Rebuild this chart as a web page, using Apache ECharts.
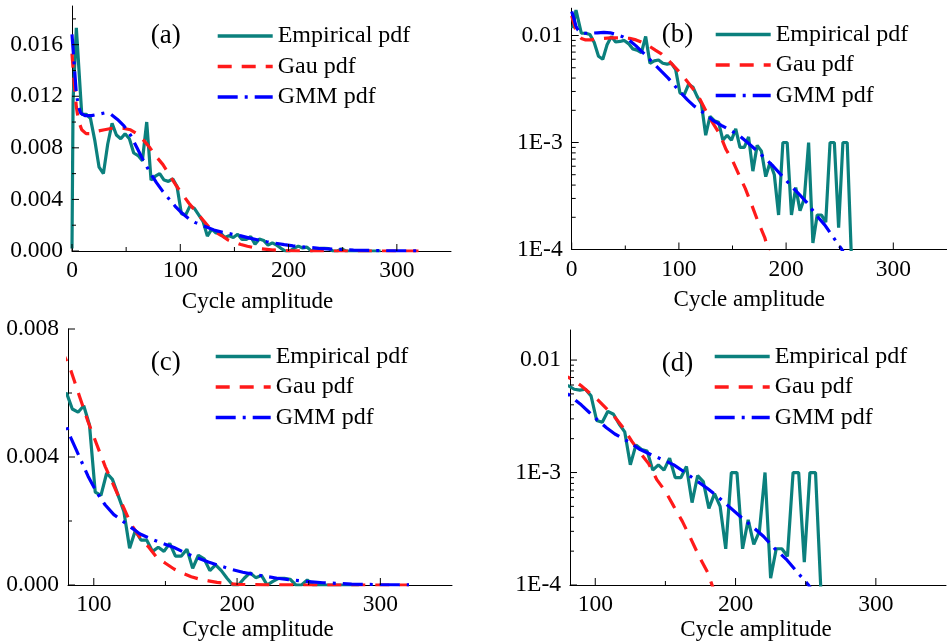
<!DOCTYPE html>
<html><head><meta charset="utf-8">
<script src="https://cdn.jsdelivr.net/npm/echarts@6/dist/echarts.min.js"></script>
<style>html,body{margin:0;padding:0;background:#fff}#c{width:947px;height:644px}</style>
</head><body><div id="c"></div>
<script>
// ---------------- data ----------------
const empX = [0, 1, 4, 9, 13, 17, 21, 25, 29, 33, 37, 41, 45, 49, 53, 57, 61, 65, 69, 73, 77, 81, 85, 89, 93, 97,
  101, 105, 109, 113, 117, 121, 125, 129, 133, 137, 141, 145, 149, 153, 157, 161, 165, 169, 173, 177, 181, 185, 189, 193,
  197, 201, 205, 209, 213, 217, 221, 225, 229, 233, 237, 241, 245, 249, 253, 257, 261, 265, 269, 273, 277, 281, 285];
// empirical pdf as drawn in the linear panels (a), (c)
const empLin = [0.0002, 0.0117, 0.0173, 0.0106, 0.0106, 0.0103, 0.0086, 0.0065, 0.0060, 0.0083, 0.0099, 0.0090, 0.0087, 0.0091, 0.0087, 0.0076, 0.0074, 0.0070, 0.0100, 0.0055, 0.0058, 0.0060, 0.0055, 0.0054, 0.0056, 0.0050,
  0.0029, 0.0028, 0.0035, 0.0033, 0.0028, 0.0023, 0.00115, 0.0017, 0.0014, 0.0014, 0.00105, 0.00118, 0.00105, 0.0013, 0.0009, 0.0009, 0.00112, 0.00052, 0.00093, 0.00082, 0.00045, 0.00063, 0.00045, 0.00021,
  0, 0, 0.00021, 0.00038, 0.00023, 0.0003, 0, 0.000115, 0.00021, 0.00021, 0.00018, 0, 0, 0.00016, 0, 0, 0, 0, 0, 0, 0, 0, 0];
// empirical pdf as drawn in the log panels (b), (d)
const empLog = [null, 0.0117, 0.0173, 0.0105, 0.0105, 0.0102, 0.0086, 0.0064, 0.0060, 0.0082, 0.0098, 0.0087, 0.0088, 0.0090, 0.0084, 0.0075, 0.0073, 0.0069, 0.0098, 0.0055, 0.0058, 0.0059, 0.0055, 0.0054, 0.0055, 0.0048,
  0.0029, 0.0028, 0.0035, 0.0033, 0.0027, 0.0023, 0.00117, 0.00176, 0.0016, 0.00155, 0.00105, 0.00117, 0.00105, 0.00134, 0.0009, 0.0009, 0.00113, 0.00054, 0.00094, 0.00083, 0.00048, 0.00065, 0.0005, 0.00021,
  0.001, 0.001, 0.00021, 0.00038, 0.00023, 0.0003, 0.001, 0.000115, 0.00021, 0.00021, 0.00018, 0.001, 0.001, 0.00016, 0.001, 0.001, 0.00008, null, null, null, null, null, null];

const gauX = [0, 2, 4, 6, 9, 13, 18, 24, 30, 36, 42, 48, 54, 60, 66, 72, 78, 84, 90, 96, 102, 108, 114, 120, 126, 132, 138, 144, 150, 156, 162, 168, 174, 180, 186, 192, 200, 220, 250, 280, 320];
const gauY = [0.0153, 0.0130, 0.0112, 0.0101, 0.0094, 0.0091, 0.0091, 0.0093, 0.0094, 0.0095, 0.0095, 0.0095, 0.0094, 0.0091, 0.0086, 0.0080, 0.0073, 0.0067, 0.0059, 0.0051, 0.0044, 0.0037, 0.0031, 0.0025, 0.0019, 0.0015, 0.0012, 0.00086, 0.00068, 0.00050, 0.00037, 0.00026, 0.00018, 0.00013, 0.00008, 0.00005, 0.00002, 0.000003, 0, 0, 0];

const gmmX = [0, 2, 4, 6, 8, 12, 18, 24, 30, 36, 42, 48, 54, 60, 66, 72, 78, 84, 90, 96, 102, 108, 114, 120, 126, 132, 140, 148, 156, 164, 172, 180, 188, 196, 204, 212, 220, 228, 236, 244, 252, 260, 280, 300, 320];
const gmmY = [0.0168, 0.0145, 0.0122, 0.0112, 0.0107, 0.0105, 0.0105, 0.0106, 0.0107, 0.0106, 0.0102, 0.0097, 0.0090, 0.0080, 0.0070, 0.0061, 0.0053, 0.0046, 0.0040, 0.0034, 0.0029, 0.0025, 0.0022, 0.0020, 0.0018, 0.0016, 0.00144, 0.0013, 0.00117, 0.0010, 0.00085, 0.00072, 0.0006, 0.00049, 0.0004, 0.00033, 0.00027, 0.00021, 0.00017, 0.00013, 0.0001, 0.00007, 0.00003, 0.00001, 0.000005];

const seriesNames = ['Empirical pdf', 'Gau pdf', 'GMM pdf'];
const panelLabels = ['(a)', '(b)', '(c)', '(d)'];
const axisTitle = 'Cycle amplitude';

const xTicksAB = [0, 100, 200, 300];
const xMinorAB = [50, 150, 250];
const xTicksCD = [100, 200, 300];
const xMinorCD = [150, 250];
const yTicksA = [0, 0.004, 0.008, 0.012, 0.016];
const yMinorA = [0.002, 0.006, 0.010, 0.014, 0.018];
const yTicksC = [0, 0.004, 0.008];
const yMinorC = [0.002, 0.006];
const yTicksLog = [0.0001, 0.001, 0.01];
const yLabelsLog = ['1E-4', '1E-3', '0.01'];
const yMinorLog = [0.0002, 0.0003, 0.0004, 0.0005, 0.0006, 0.0007, 0.0008, 0.0009,
  0.002, 0.003, 0.004, 0.005, 0.006, 0.007, 0.008, 0.009];

// ---------------- layout / style ----------------
const FONT = "'Liberation Serif', 'Times New Roman', serif";
const TEAL = '#0b807d', RED = '#ff1a1a', BLUE = '#0000ff';
const LW = 3.2;

const panels = [
  { grid: { left: 72, top: 6, width: 379, height: 245 }, xMin: 0, xMax: 350, log: false, yMin: 0, yMax: 0.019,
    xTicks: xTicksAB, xMinor: xMinorAB, yTicks: yTicksA, yMinor: yMinorA,
    legend: { left: 216, top: 24 }, label: [165.7, 35.5], nameGap: 39, namePad: 8 },
  { grid: { left: 571.7, top: 8.2, width: 375.2, height: 241.3 }, xMin: 0, xMax: 350, log: true, yMin: 0.0001, yMax: 0.018,
    xTicks: xTicksAB, xMinor: xMinorAB, yTicks: yTicksLog, yMinor: yMinorLog,
    legend: { left: 714, top: 22.5 }, label: [677.5, 35], nameGap: 39, namePad: 20 },
  { grid: { left: 68, top: 329, width: 384, height: 256 }, xMin: 82, xMax: 350, log: false, yMin: 0, yMax: 0.008,
    xTicks: xTicksCD, xMinor: xMinorCD, yTicks: yTicksC, yMinor: yMinorC,
    legend: { left: 214, top: 344.5 }, label: [165.7, 363], nameGap: 33, namePad: 4 },
  { grid: { left: 570, top: 330, width: 376, height: 255 }, xMin: 82, xMax: 350, log: true, yMin: 0.0001, yMax: 0.0185,
    xTicks: xTicksCD, xMinor: xMinorCD, yTicks: yTicksLog, yMinor: yMinorLog,
    legend: { left: 713, top: 344.5 }, label: [677.5, 363.5], nameGap: 33, namePad: 4 }
];

const pairs = (xs, ys, log) => xs.map((x, i) => [x, (ys[i] === null || (log && !(ys[i] > 0))) ? null : ys[i]]);

const option = {
  animation: false,
  backgroundColor: '#fff',
  grid: [], xAxis: [], yAxis: [], series: [], legend: [], graphic: []
};

panels.forEach((p, i) => {
  option.grid.push(Object.assign({ containLabel: false }, p.grid));
  option.xAxis.push({
    type: 'value', gridIndex: i, min: p.xMin, max: p.xMax,
    name: axisTitle, nameLocation: 'middle', nameGap: p.nameGap,
    nameTextStyle: { fontFamily: FONT, fontSize: 23, color: '#000', padding: [0, p.namePad, 0, 0] },
    axisLine: { onZero: false, lineStyle: { color: '#000', width: 1 } },
    axisTick: { show: false },
    splitLine: { show: false },
    axisLabel: { customValues: p.xTicks, margin: 8, fontFamily: FONT, fontSize: 23.5, color: '#000' }
  });
  const yAx = {
    gridIndex: i, min: p.yMin, max: p.yMax,
    axisLine: { onZero: false, lineStyle: { color: '#000', width: 1 } },
    axisTick: { show: false },
    splitLine: { show: false },
    axisLabel: { margin: 9, fontFamily: FONT, fontSize: 23.5, color: '#000' }
  };
  if (p.log) {
    yAx.type = 'log'; yAx.logBase = 10;
    yAx.axisLabel.formatter = v => {
      const k = yTicksLog.findIndex(t => Math.abs(t - v) / t < 1e-6);
      return k >= 0 ? yLabelsLog[k] : '';
    };
  } else {
    yAx.type = 'value';
    yAx.axisLabel.customValues = p.yTicks;
    yAx.axisLabel.formatter = v => v.toFixed(3);
  }
  option.yAxis.push(yAx);

  const L = p.log;
  option.series.push(
    { type: 'line', name: seriesNames[0], xAxisIndex: i, yAxisIndex: i, symbol: 'none', showSymbol: false,
      data: pairs(empX, L ? empLog : empLin, L), lineStyle: { color: TEAL, width: LW }, itemStyle: { color: TEAL }, z: 2 },
    { type: 'line', name: seriesNames[1], xAxisIndex: i, yAxisIndex: i, symbol: 'none', showSymbol: false,
      data: pairs(gauX, gauY, L), lineStyle: { color: RED, width: LW, type: [14, 10] }, itemStyle: { color: RED }, z: 3 },
    { type: 'line', name: seriesNames[2], xAxisIndex: i, yAxisIndex: i, symbol: 'none', showSymbol: false,
      data: pairs(gmmX, gmmY, L), lineStyle: { color: BLUE, width: LW, type: [20, 7, 3, 7] }, itemStyle: { color: BLUE }, z: 4 }
  );

  // ticks (inside) drawn through the axes' own scales
  const tickData = [];
  p.yTicks.forEach(v => tickData.push([p.xMin, v, 0]));
  p.yMinor.forEach(v => tickData.push([p.xMin, v, 1]));
  p.xTicks.forEach(v => tickData.push([v, p.yMin, 2]));
  p.xMinor.forEach(v => tickData.push([v, p.yMin, 3]));
  option.series.push({
    type: 'custom', name: 'ticks' + i, xAxisIndex: i, yAxisIndex: i, clip: false, silent: true, z: 10,
    data: tickData,
    renderItem: (params, api) => {
      const kind = api.value(2);
      const pt = api.coord([api.value(0), api.value(1)]);
      const len = (kind === 0 || kind === 2) ? 7 : 4;
      const shape = kind < 2
        ? { x1: pt[0], y1: pt[1], x2: pt[0] + len, y2: pt[1] }
        : { x1: pt[0], y1: pt[1], x2: pt[0], y2: pt[1] - len };
      return { type: 'line', shape: shape, style: { stroke: '#000', lineWidth: 1 } };
    }
  });

  option.legend.push({
    data: seriesNames, orient: 'vertical', left: p.legend.left, top: p.legend.top,
    itemWidth: 55, itemHeight: 14, itemGap: 6.5, padding: 0, selectedMode: false,
    itemStyle: { color: 'rgba(0,0,0,0)', borderColor: 'rgba(0,0,0,0)', borderWidth: 0, opacity: 0 },
    lineStyle: { width: 3.4 },
    textStyle: { fontFamily: FONT, fontSize: 24, color: '#000' }
  });

  option.graphic.push({
    type: 'text', x: p.label[0], y: p.label[1], silent: true,
    style: { text: panelLabels[i], font: '27px ' + FONT, fill: '#000', align: 'center', verticalAlign: 'middle' }
  });
});

const chart = echarts.init(document.getElementById('c'), null, { renderer: 'canvas' });
chart.setOption(option);
</script>
</body></html>
